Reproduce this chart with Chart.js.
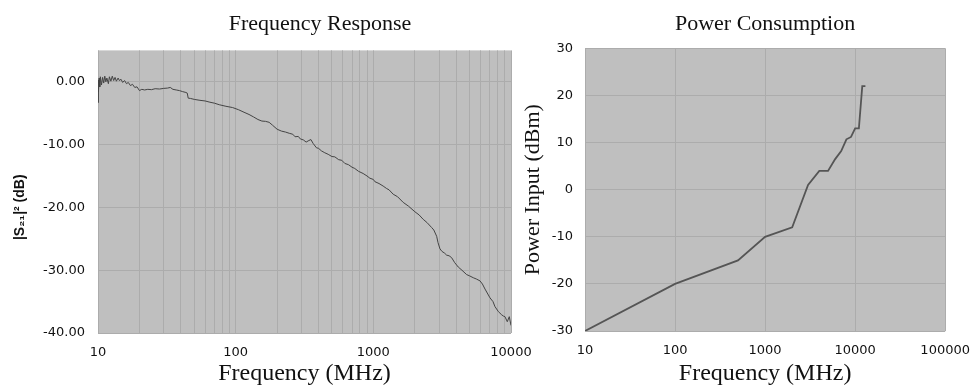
<!DOCTYPE html>
<html>
<head>
<meta charset="utf-8">
<script src="https://cdn.jsdelivr.net/npm/chart.js@4.4.0/dist/chart.umd.min.js"></script>
<style>
body { margin: 0; background: #fff; }
#wrap { position: relative; width: 970px; height: 386px; overflow: hidden; }
#left { position: absolute; left: 0; top: 0; }
#right { position: absolute; left: 515px; top: 0; }
</style>
</head>
<body>
<div id="wrap">
<canvas id="left" width="640" height="386"></canvas>
<canvas id="right" width="467" height="386"></canvas>
</div>
<script>
// frequency response
var s21Freq = [
    10, 10.05, 10.1, 10.2, 10.3, 10.4, 10.6, 10.8, 11.0, 11.2,
    11.4, 11.6, 11.9, 12.1, 12.4, 12.7, 13.0, 13.3, 13.6, 14.0,
    14.3, 14.7, 15.1, 15.6, 16.1, 16.6, 17.2, 17.8, 18.5, 19.2,
    20, 20.8, 21.8, 23, 24.5, 26, 28, 30, 32, 33.5,
    35, 37, 39, 41, 43.5, 44.5, 45.2, 47, 50, 55,
    60, 65, 70, 76, 85, 95, 105, 115, 125, 135,
    145, 155, 165, 175, 185, 200, 215, 230, 245, 260,
    270, 285, 295, 310, 325, 340, 352, 365, 386, 400,
    420, 444, 470, 500, 525, 560, 590, 621, 660, 700,
    733, 780, 843, 900, 944, 1000, 1026, 1100, 1178, 1250,
    1300, 1394, 1500, 1648, 1800, 2005, 2150, 2303, 2450, 2650,
    2750, 2884, 2950, 3048, 3150, 3300, 3407, 3550, 3703, 3900,
    4140, 4400, 4764, 5000, 5322, 5600, 5953, 6200, 6475, 7036,
    7400, 7649, 8100, 8554, 8800, 9040, 9397, 9719, 10000
];
var s21Db = [
    -3.3, 0.3, -1.6, 0.6, -0.8, 0.8, -0.5, 0.7, -0.2, 0.9,
    0.0, 0.6, -0.3, 0.8, 0.1, 0.9, 0.2, 0.7, 0.1, 0.6,
    0.2, 0.4, -0.1, 0.2, -0.3, -0.1, -0.6, -0.4, -0.9, -0.8,
    -1.4, -1.2, -1.3, -1.2, -1.25, -1.1, -1.15, -1.05, -1.0, -0.9,
    -1.2, -1.3, -1.4, -1.55, -1.7, -1.8, -2.6, -2.65, -2.8, -2.95,
    -3.05, -3.25, -3.4, -3.65, -3.9, -4.1, -4.45, -4.85, -5.2, -5.6,
    -6.0, -6.25, -6.3, -6.45, -6.9, -7.55, -7.85, -8.0, -8.2, -8.35,
    -8.75, -8.7, -9.1, -9.25, -9.6, -9.35, -9.2, -9.8, -10.5, -10.6,
    -11.0, -11.3, -11.55, -11.9, -11.95, -12.4, -12.5, -13.0, -13.2, -13.6,
    -13.8, -14.25, -14.6, -15.0, -15.35, -15.55, -15.9, -16.2, -16.6, -17.0,
    -17.2, -17.9, -18.3, -19.2, -19.8, -20.7, -21.2, -21.9, -22.4, -23.2,
    -23.6, -24.6, -25.6, -26.6, -27.0, -27.3, -27.6, -27.7, -28.0, -28.8,
    -29.5, -30.0, -30.7, -30.9, -31.2, -31.4, -31.7, -32.2, -33.0, -34.4,
    -35.0, -35.8, -36.6, -37.1, -37.3, -37.4, -38.2, -37.4, -38.8
];

// power consumption
var powerFreq = [10, 100, 500, 1000, 2000, 3000, 4000, 5000, 6000, 7000, 8000, 9000, 10000, 11000, 12000, 13000];
var powerDbm = [-30, -20, -15, -10, -8, 1, 4, 4, 6.5, 8.2, 10.7, 11.2, 13, 13, 22, 22];

// ticks
var dbTicks = [-40, -30, -20, -10, 0];
var freqLabels = [10, 100, 1000, 10000, 100000];
var freqGrid = [];
[10, 100, 1000].forEach(function (d) {
    for (var k = 1; k < 10; k++) freqGrid.push(k * d);
});
freqGrid.push(10000);

Chart.defaults.color = '#111';
Chart.defaults.font.family = 'DejaVu Sans';
Chart.defaults.font.size = 13;

var plotBg = {
    id: 'plotBg',
    beforeDraw: function (chart) {
        var a = chart.chartArea;
        var ctx = chart.ctx;
        ctx.save();
        ctx.fillStyle = '#bfbfbf';
        ctx.fillRect(a.left, a.top, a.right - a.left, a.bottom - a.top);
        ctx.restore();
    }
};

var serif = 'Liberation Serif';
var gridColor = '#acacac';

function toPoints(xs, ys) {
    return xs.map(function (x, i) { return { x: x, y: ys[i] }; });
}

new Chart(document.getElementById('left'), {
    type: 'line',
    data: {
        datasets: [{
            data: toPoints(s21Freq, s21Db),
            borderColor: '#444',
            borderWidth: 1,
            pointRadius: 0,
            tension: 0
        }]
    },
    options: {
        responsive: false,
        animation: false,
        plugins: {
            legend: { display: false },
            tooltip: { enabled: false },
            title: {
                display: true,
                text: 'Frequency Response',
                color: '#111',
                font: { family: serif, size: 22, weight: 'normal' },
                padding: { top: 11, bottom: 13 }
            }
        },
        scales: {
            x: {
                type: 'logarithmic',
                min: 10,
                max: 10000,
                afterBuildTicks: function (s) {
                    s.ticks = freqGrid.map(function (v) { return { value: v }; });
                },
                afterFit: function (s) { s.height = 53; },
                grid: { color: gridColor, drawTicks: false },
                border: { display: false },
                ticks: {
                    autoSkip: false,
                    maxRotation: 0,
                    padding: 12,
                    callback: function (v) { return freqLabels.indexOf(v) >= 0 ? String(v) : ''; }
                },
                title: {
                    display: true,
                    text: 'Frequency (MHz)',
                    font: { family: serif, size: 24, lineHeight: 1 },
                    padding: 0
                }
            },
            y: {
                min: -40,
                max: 5,
                afterBuildTicks: function (s) {
                    s.ticks = dbTicks.map(function (v) { return { value: v }; });
                },
                afterFit: function (s) { s.width = 98; },
                grid: { color: gridColor, drawTicks: false },
                border: { display: false },
                ticks: {
                    padding: 13,
                    callback: function (v) { return v.toFixed(2); }
                },
                title: {
                    display: true,
                    text: '|S\u2082\u2081|\u00b2 (dB)        ',
                    font: { family: 'Liberation Sans', size: 14, weight: 'bold' },
                    padding: { top: 12, bottom: 0 }
                }
            },
            // empty strip on the right so the plot ends where the reference does
            spacer: {
                type: 'linear',
                position: 'right',
                afterFit: function (s) { s.width = 129; },
                grid: { display: false },
                border: { display: false },
                ticks: { display: false }
            }
        }
    },
    plugins: [plotBg]
});

new Chart(document.getElementById('right'), {
    type: 'line',
    data: {
        datasets: [{
            data: toPoints(powerFreq, powerDbm),
            borderColor: '#555',
            borderWidth: 1.8,
            pointRadius: 0,
            tension: 0
        }]
    },
    options: {
        responsive: false,
        animation: false,
        plugins: {
            legend: { display: false },
            tooltip: { enabled: false },
            title: {
                display: true,
                fullSize: false,
                text: 'Power Consumption',
                color: '#111',
                font: { family: serif, size: 22, weight: 'normal' },
                padding: { top: 11, bottom: 11 }
            }
        },
        scales: {
            x: {
                type: 'logarithmic',
                min: 10,
                max: 100000,
                afterBuildTicks: function (s) {
                    s.ticks = freqLabels.map(function (v) { return { value: v }; });
                },
                afterFit: function (s) { s.height = 55; },
                grid: { color: gridColor, drawTicks: false },
                border: { display: false },
                ticks: {
                    autoSkip: false,
                    maxRotation: 0,
                    padding: 12,
                    callback: function (v) { return String(v); }
                },
                title: {
                    display: true,
                    text: 'Frequency (MHz)',
                    font: { family: serif, size: 24, lineHeight: 1 },
                    padding: 0
                }
            },
            y: {
                min: -30,
                max: 30,
                ticks: { stepSize: 10, padding: 12 },
                afterFit: function (s) { s.width = 70; },
                grid: { color: gridColor, drawTicks: false },
                border: { display: false },
                title: {
                    display: true,
                    text: 'Power Input (dBm)',
                    font: { family: serif, size: 22 },
                    padding: { top: 5, bottom: 0 }
                }
            }
        }
    },
    plugins: [plotBg]
});
</script>
</body>
</html>
